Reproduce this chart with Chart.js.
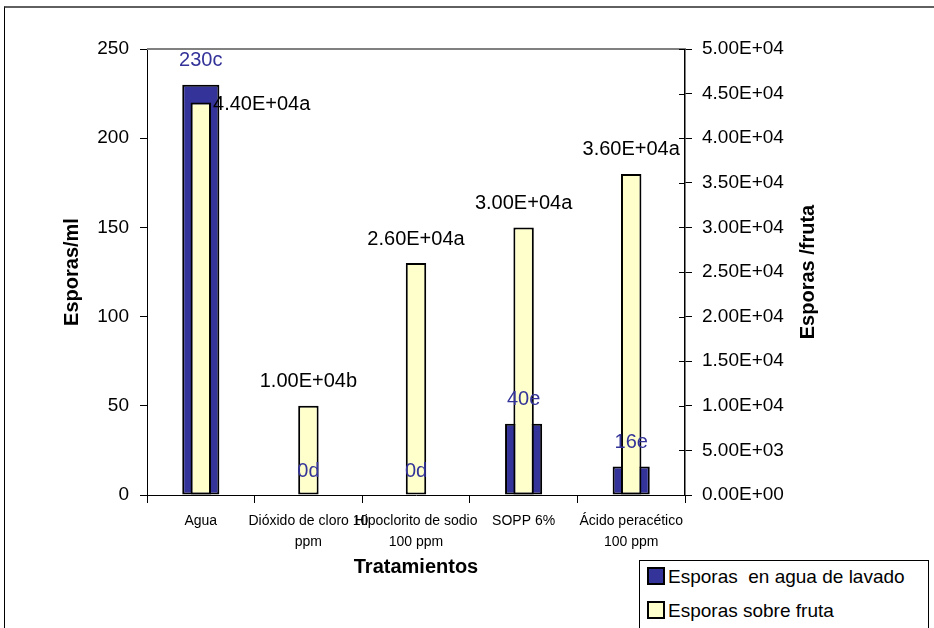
<!DOCTYPE html>
<html lang="es">
<head>
  <meta charset="UTF-8">
  <title>Esporas por tratamiento</title>
  <script src="https://cdn.jsdelivr.net/npm/chart.js"></script>
  <style>
    body {
      margin: 0;
      background: #ffffff;
      font-family: 'Liberation Sans', Arial, sans-serif;
    }
    .wrap {
      position: relative;
      width: 934px;
      height: 628px;
      overflow: hidden;
    }
    .frame {
      position: absolute;
      left: 4px;
      top: 6px;
      width: 960px;
      height: 700px;
      border-top: 2px solid #606060;
      border-left: 1px solid #000;
      pointer-events: none;
    }
    .legend {
      position: absolute;
      left: 639px;
      top: 560px;
      width: 288px;
      height: 90px;
      border: 1px solid #000;
      background: #fff;
      font-size: 19px;
      color: #000;
    }
    .legend .item {
      position: absolute;
      left: 7px;
      white-space: pre;
      line-height: 22px;
    }
    .legend .sw {
      display: inline-block;
      width: 14px;
      height: 14px;
      border: 2px solid #000;
      vertical-align: -2px;
      margin-right: 3px;
    }
  </style>
</head>
<body>
  <div class="wrap">
    <canvas id="chart" width="934" height="628"></canvas>
    <div class="frame"></div>
    <div class="legend">
      <div class="item" style="top:5px"><span class="sw" style="background:#333399"></span>Esporas  en agua de lavado</div>
      <div class="item" style="top:39px"><span class="sw" style="background:#ffffcc"></span>Esporas sobre fruta</div>
    </div>
  </div>

  <script>
    // categories (x axis, multi-line)
    const categories = [
      ['Agua'],
      ['Dióxido de cloro 10', 'ppm'],
      ['Hipoclorito de sodio', '100 ppm'],
      ['SOPP 6%'],
      ['Ácido peracético', '100 ppm']
    ];

    // series
    const esporasAgua = [230, 0, 0, 40, 16];
    const esporasFruta = [44000, 10000, 26000, 30000, 36000];

    // data labels
    const labelsAgua = ['230c', '0d', '0d', '40e', '16e'];
    const labelsFruta = ['4.40E+04a', '1.00E+04b', '2.60E+04a', '3.00E+04a', '3.60E+04a'];

    // tick values
    const leftTicks = [0, 50, 100, 150, 200, 250];
    const rightTicks = [0, 5000, 10000, 15000, 20000, 25000, 30000, 35000, 40000, 45000, 50000];
    const rightTitle = 'Esporas /fruta';

    const FONT = "'Liberation Sans', Arial, sans-serif";
    Chart.defaults.font.family = FONT;
    Chart.defaults.color = '#000';

    function sci(v) {
      const parts = Number(v).toExponential(2).split('e');
      const sign = parts[1][0] === '-' ? '-' : '+';
      const exp = parts[1].replace(/[+-]/, '').padStart(2, '0');
      return parts[0] + 'E' + sign + exp;
    }

    // value labels, plot-area top border, inner half of right ticks, right title
    const labelPlugin = {
      id: 'barLabels',
      afterDatasetsDraw(chart) {
        const ctx = chart.ctx;
        const area = chart.chartArea;
        ctx.save();
        ctx.strokeStyle = '#808080';
        ctx.lineWidth = 2;
        ctx.beginPath();
        ctx.moveTo(area.left, area.top);
        ctx.lineTo(area.right, area.top);
        ctx.stroke();

        // right axis ticks cross the axis line
        const y1 = chart.scales.y1;
        ctx.strokeStyle = '#000';
        ctx.lineWidth = 1;
        ctx.beginPath();
        y1.ticks.forEach(t => {
          const py = Math.round(y1.getPixelForValue(t.value)) + 0.5;
          ctx.moveTo(area.right - 6, py);
          ctx.lineTo(area.right, py);
        });
        ctx.stroke();

        ctx.font = '20px ' + FONT;
        ctx.textBaseline = 'middle';
        const blueMeta = chart.getDatasetMeta(0);
        const yellowMeta = chart.getDatasetMeta(1);
        const blueBoxes = [];

        blueMeta.data.forEach((el, i) => {
          const txt = labelsAgua[i];
          const w = ctx.measureText(txt).width;
          const y = el.y - 24;
          ctx.fillStyle = '#333399';
          ctx.textAlign = 'center';
          ctx.fillText(txt, el.x, y);
          blueBoxes.push({ l: el.x - w / 2, r: el.x + w / 2, t: y - 10, b: y + 10 });
        });

        yellowMeta.data.forEach((el, i) => {
          const txt = labelsFruta[i];
          const w = ctx.measureText(txt).width;
          const y = el.y - 24;
          const bb = blueBoxes[i];
          const hit = bb && !(el.x + w / 2 < bb.l || el.x - w / 2 > bb.r || y + 10 < bb.t || y - 10 > bb.b);
          ctx.fillStyle = '#000';
          if (hit) {
            ctx.textAlign = 'left';
            ctx.fillText(txt, el.x + el.width / 2 + 2, el.y + 2);
          } else {
            ctx.textAlign = 'center';
            ctx.fillText(txt, el.x, y);
          }
        });

        // right axis title reads bottom-to-top
        ctx.translate(808, (area.top + area.bottom) / 2);
        ctx.rotate(-Math.PI / 2);
        ctx.font = 'bold 20px ' + FONT;
        ctx.textAlign = 'center';
        ctx.fillStyle = '#000';
        ctx.fillText(rightTitle, 0, 0);
        ctx.restore();
      }
    };

    const ctx = document.getElementById('chart').getContext('2d');
    const chart = new Chart(ctx, {
      type: 'bar',
      data: {
        labels: categories,
        datasets: [
          {
            label: 'Esporas  en agua de lavado',
            data: esporasAgua,
            yAxisID: 'y',
            backgroundColor: '#333399',
            borderColor: '#000',
            borderWidth: 2,
            borderSkipped: false,
            grouped: false,
            categoryPercentage: 1,
            barPercentage: 0.345,
            order: 1
          },
          {
            label: 'Esporas sobre fruta',
            data: esporasFruta,
            yAxisID: 'y1',
            backgroundColor: '#ffffcc',
            borderColor: '#000',
            borderWidth: 2,
            borderSkipped: false,
            grouped: false,
            categoryPercentage: 1,
            barPercentage: 0.19,
            order: 0
          }
        ]
      },
      options: {
        responsive: false,
        animation: false,
        devicePixelRatio: 1,
        layout: { padding: { top: 49, left: 0, right: 0, bottom: 0 } },
        plugins: {
          legend: { display: false },
          tooltip: { enabled: false }
        },
        scales: {
          x: {
            offset: true,
            grid: { display: true, drawOnChartArea: false, drawTicks: true, tickLength: 8, color: '#000', offset: true },
            border: { display: true, color: '#000', width: 1 },
            ticks: {
              autoSkip: false,
              maxRotation: 0,
              minRotation: 0,
              padding: 8,
              font: { size: 14, lineHeight: 1.5 },
              color: '#000'
            },
            title: {
              display: true,
              text: 'Tratamientos',
              font: { size: 20, weight: 'bold' },
              padding: { top: 0, bottom: 49 }
            },
            afterFit(scale) { scale.height = 133; }
          },
          y: {
            position: 'left',
            min: 0,
            max: 250,
            afterBuildTicks(scale) { scale.ticks = leftTicks.map(v => ({ value: v })); },
            grid: { display: true, drawOnChartArea: false, drawTicks: true, tickLength: 7, color: '#000' },
            border: { display: true, color: '#000', width: 1 },
            ticks: { padding: 11, font: { size: 19 }, color: '#000' },
            title: {
              display: true,
              text: 'Esporas/ml',
              font: { size: 20, weight: 'bold' },
              padding: { top: 60, bottom: 0 }
            },
            afterFit(scale) { scale.width = 147; }
          },
          y1: {
            position: 'right',
            min: 0,
            max: 50000,
            afterBuildTicks(scale) { scale.ticks = rightTicks.map(v => ({ value: v })); },
            grid: { display: true, drawOnChartArea: false, drawTicks: true, tickLength: 7, color: '#000' },
            border: { display: true, color: '#000', width: 1.5 },
            ticks: { padding: 10, font: { size: 19 }, color: '#000', callback: v => sci(v) },
            title: { display: false },
            afterFit(scale) { scale.width = 249; }
          }
        }
      },
      plugins: [labelPlugin]
    });
  </script>
</body>
</html>
